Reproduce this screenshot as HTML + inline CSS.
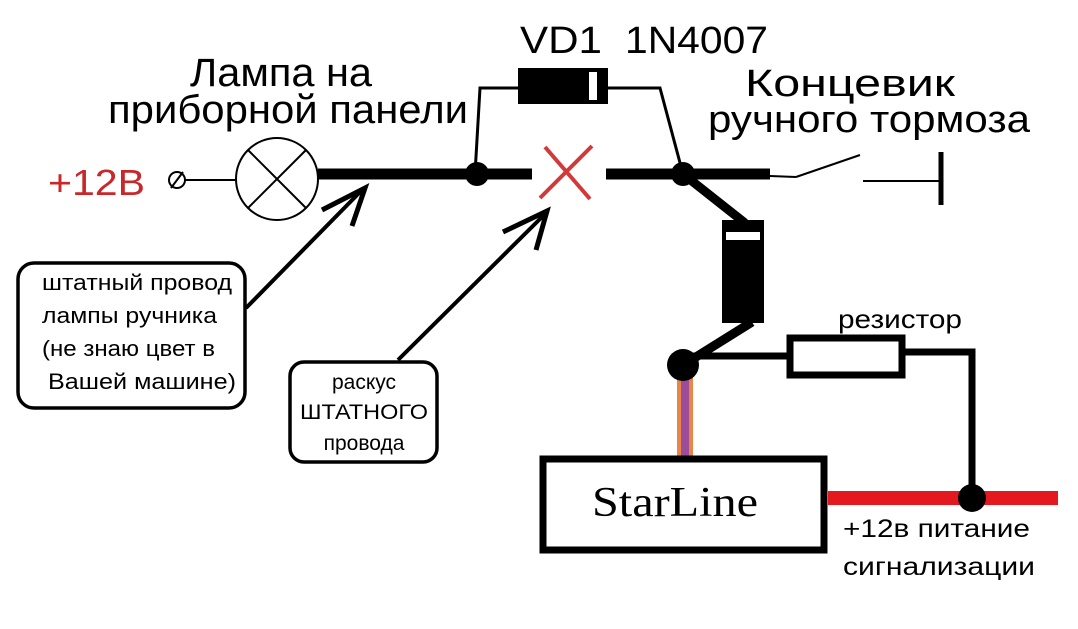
<!DOCTYPE html>
<html><head><meta charset="utf-8"><style>
html,body{margin:0;padding:0;background:#fff;}
svg{display:block;}
text{font-family:"Liberation Sans","DejaVu Sans",sans-serif;}
</style></head><body>
<svg width="1078" height="629" viewBox="0 0 1078 629" xmlns="http://www.w3.org/2000/svg">
<rect width="1078" height="629" fill="#fff"/>
<!-- labels -->
<text x="520" y="53" font-size="38" textLength="82" lengthAdjust="spacingAndGlyphs">VD1</text>
<text x="625" y="53" font-size="38" textLength="143" lengthAdjust="spacingAndGlyphs">1N4007</text>
<text x="190" y="86" font-size="40" textLength="182" lengthAdjust="spacingAndGlyphs">Лампа на</text>
<text x="108" y="123" font-size="40" textLength="360" lengthAdjust="spacingAndGlyphs">приборной панели</text>
<text x="745" y="96" font-size="38" textLength="210" lengthAdjust="spacingAndGlyphs">Концевик</text>
<text x="708" y="132" font-size="38" textLength="322" lengthAdjust="spacingAndGlyphs">ручного тормоза</text>
<text x="48" y="195" font-size="36" fill="#c8282a" textLength="97" lengthAdjust="spacingAndGlyphs">+12В</text>
<!-- ground terminal -->
<circle cx="177" cy="180" r="8" fill="none" stroke="#000" stroke-width="2"/>
<line x1="171" y1="188" x2="183" y2="172" stroke="#000" stroke-width="2"/>
<line x1="185" y1="180" x2="237" y2="180" stroke="#000" stroke-width="2"/>
<!-- lamp -->
<circle cx="277" cy="179" r="41" fill="none" stroke="#000" stroke-width="2"/>
<line x1="248" y1="150" x2="306" y2="208" stroke="#000" stroke-width="2"/>
<line x1="306" y1="150" x2="248" y2="208" stroke="#000" stroke-width="2"/>
<!-- main thick wires -->
<line x1="318" y1="174" x2="532" y2="174" stroke="#000" stroke-width="11"/>
<line x1="606" y1="174" x2="770" y2="174" stroke="#000" stroke-width="11"/>
<circle cx="477" cy="174" r="12" fill="#000"/>
<circle cx="683" cy="174" r="12" fill="#000"/>
<!-- diode VD1 -->
<polyline points="475,174 480,88 520,88" fill="none" stroke="#000" stroke-width="3"/>
<polyline points="606,88 660,88 683,174" fill="none" stroke="#000" stroke-width="3"/>
<rect x="518" y="68" width="90" height="36" fill="#000"/>
<rect x="589" y="72" width="8" height="28" fill="#fff"/>
<!-- red X -->
<line x1="540" y1="198" x2="592" y2="146" stroke="#d23a3a" stroke-width="4"/>
<line x1="545" y1="147" x2="590" y2="199" stroke="#d23a3a" stroke-width="4"/>
<!-- switch -->
<line x1="770" y1="176" x2="796" y2="177" stroke="#000" stroke-width="2"/>
<line x1="796" y1="177" x2="860" y2="155" stroke="#000" stroke-width="2"/>
<line x1="863" y1="181" x2="940" y2="181" stroke="#000" stroke-width="2"/>
<line x1="941" y1="152" x2="941" y2="205" stroke="#000" stroke-width="5"/>
<!-- second diode -->
<line x1="683" y1="174" x2="745" y2="223" stroke="#000" stroke-width="9"/>
<rect x="722" y="220" width="42" height="103" fill="#000"/>
<rect x="726" y="232" width="34" height="8" fill="#fff"/>
<line x1="752" y1="322" x2="688" y2="362" stroke="#000" stroke-width="9"/>
<!-- colored wire -->
<rect x="677" y="370" width="16" height="86" fill="#e8864a"/>
<rect x="681" y="370" width="8" height="86" fill="#9b4d9a"/>
<circle cx="683" cy="365" r="16" fill="#000"/>
<!-- resistor -->
<line x1="690" y1="356" x2="790" y2="356" stroke="#000" stroke-width="7"/>
<rect x="790" y="338" width="112" height="37" fill="#fff" stroke="#000" stroke-width="7"/>
<text x="838" y="328" font-size="26" textLength="124" lengthAdjust="spacingAndGlyphs">резистор</text>
<polyline points="902,352 972,352 972,497" fill="none" stroke="#000" stroke-width="7"/>
<!-- red +12 -->
<line x1="828" y1="498" x2="1058" y2="498" stroke="#e3191f" stroke-width="14"/>
<circle cx="972" cy="498" r="14" fill="#000"/>
<!-- StarLine box -->
<rect x="543" y="459" width="281" height="91" fill="#fff" stroke="#000" stroke-width="7"/>
<text x="592" y="516" font-size="42" textLength="166" lengthAdjust="spacingAndGlyphs" style="font-family:'Liberation Serif',serif">StarLine</text>
<text x="843" y="537" font-size="25" textLength="187" lengthAdjust="spacingAndGlyphs">+12в питание</text>
<text x="843" y="575" font-size="25" textLength="192" lengthAdjust="spacingAndGlyphs">сигнализации</text>
<!-- callout boxes -->
<rect x="18" y="263" width="227" height="145" rx="16" fill="#fff" stroke="#000" stroke-width="3.5"/>
<text x="42" y="290" font-size="22" textLength="190" lengthAdjust="spacingAndGlyphs">штатный провод</text>
<text x="42" y="323" font-size="22" textLength="175" lengthAdjust="spacingAndGlyphs">лампы ручника</text>
<text x="42" y="356" font-size="22" textLength="173" lengthAdjust="spacingAndGlyphs">(не знаю цвет в</text>
<text x="48" y="389" font-size="22" textLength="188" lengthAdjust="spacingAndGlyphs">Вашей  машине)</text>
<rect x="290" y="362" width="147" height="100" rx="14" fill="#fff" stroke="#000" stroke-width="3.5"/>
<text x="364" y="389" font-size="21" text-anchor="middle">раскус</text>
<text x="364" y="419" font-size="21" text-anchor="middle" textLength="128" lengthAdjust="spacingAndGlyphs">ШТАТНОГО</text>
<text x="364" y="450" font-size="21" text-anchor="middle">провода</text>
<!-- arrows -->
<line x1="246" y1="308" x2="362" y2="190" stroke="#000" stroke-width="4"/>
<polyline points="322,210 365,188 352,226" fill="none" stroke="#000" stroke-width="5"/>
<line x1="398" y1="360" x2="546" y2="213" stroke="#000" stroke-width="4"/>
<polyline points="503,232 547,211 536,250" fill="none" stroke="#000" stroke-width="5"/>
</svg>
</body></html>
